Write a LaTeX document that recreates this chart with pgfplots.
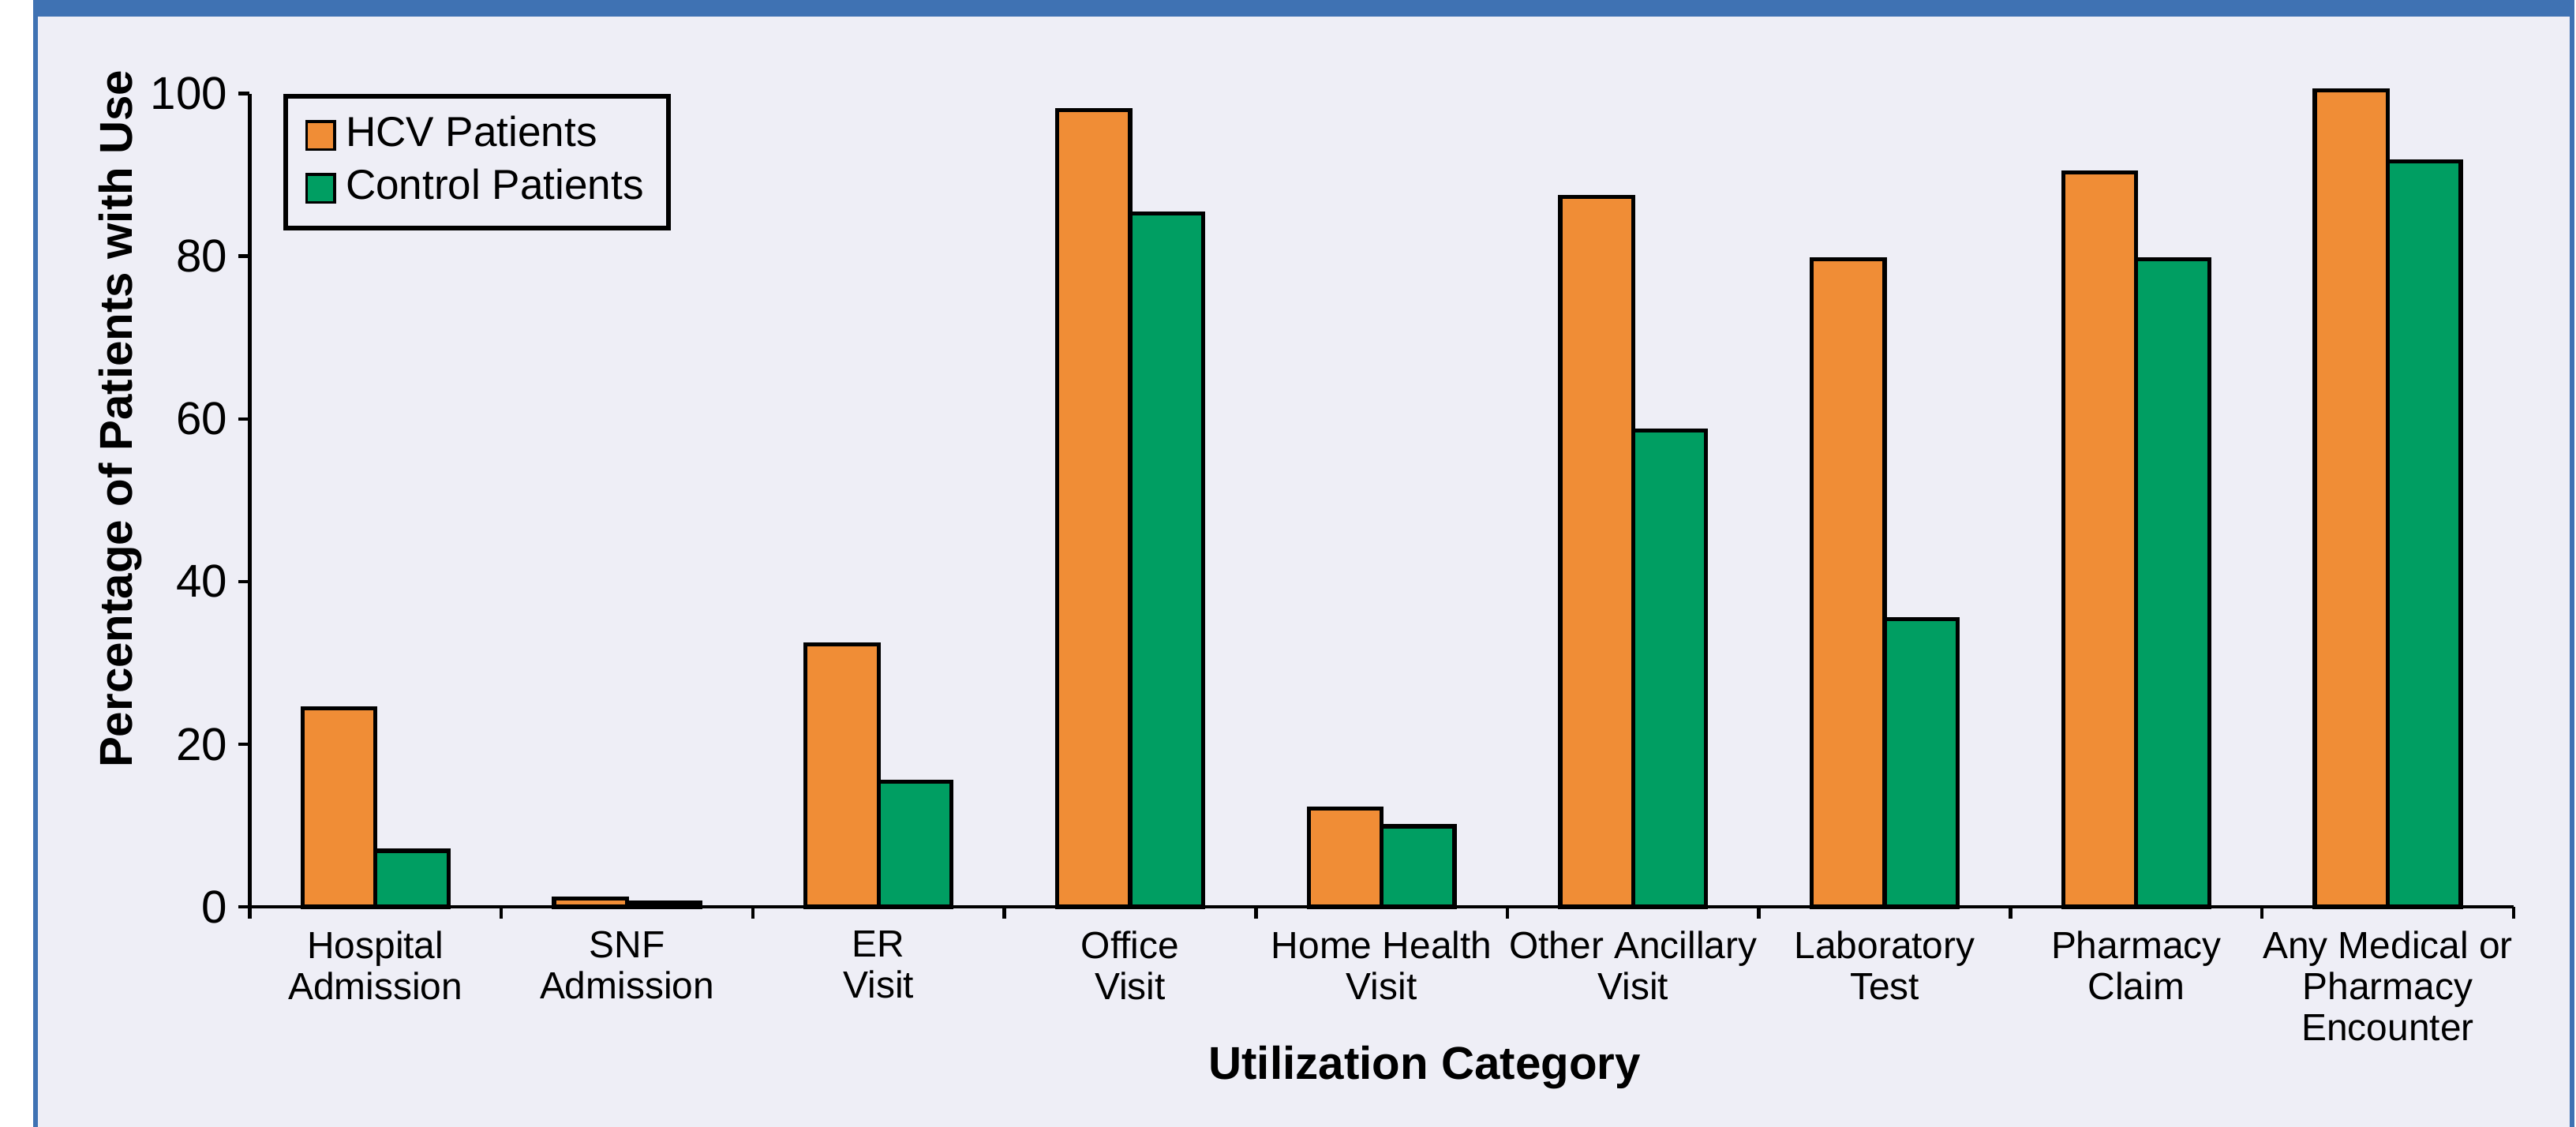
\documentclass[border=0pt]{standalone}
\usepackage{pgfplots}
\pgfplotsset{compat=1.18}
\usepackage{fontspec}
\setmainfont{Liberation Sans}
\definecolor{hcv}{RGB}{240,141,54}
\definecolor{ctl}{RGB}{0,158,98}
\definecolor{bg}{RGB}{238,238,246}
\definecolor{framec}{RGB}{63,114,179}
\begin{document}
\begin{tikzpicture}[x=1pt,y=1pt]
\useasboundingbox (-45.6,-40.2) rectangle (424.8,165.6);
\fill[white] (-46,-41) rectangle (425,166);
\fill[framec] (-39.6,-41) rectangle (424.5,166);
\fill[bg] (-38.7,-41) rectangle (423.6,162.6);
\begin{axis}[
  scale only axis, width=413.4pt, height=148.5pt,
  xmin=0, xmax=9, ymin=0, ymax=100,
  clip=false,
  axis lines=left, axis line style={line width=0.65pt,-},
  axis on top,
  tick align=outside,
  major tick length=2.1pt,
  tick style={line width=0.65pt, black},
  xtick={0,1,...,9}, xticklabels={},
  extra x ticks={0.5,1.5,2.5,3.5,4.5,5.5,6.5,7.5,8.5},
  extra x tick labels={Hospital\\Admission, SNF\\Admission, ER\\Visit, Office\\Visit, Home Health\\Visit, Other Ancillary\\Visit, Laboratory\\Test, Pharmacy\\Claim, Any Medical or\\Pharmacy\\Encounter},
  extra x tick style={major tick length=0pt, tick style={draw=none},
     xticklabel style={align=center, font=\fontsize{6.9}{7.5}\selectfont, inner sep=0pt, yshift=-4.2pt}},
  ytick={0,20,...,100},
  yticklabel style={font=\fontsize{8.4}{10}\selectfont, inner sep=1.8pt},
  /pgf/number format/assume math mode=true,
  xlabel={Utilization Category},
  ylabel={Percentage of Patients with Use},
  xlabel style={font=\bfseries\fontsize{8.4}{10}\selectfont, at={(axis description cs:0.519,-0.212)}, anchor=base},
  ylabel style={font=\bfseries\fontsize{8.4}{10}\selectfont, at={(axis description cs:-0.0518,0.6)}, anchor=base},
  legend style={at={(0.015,1)}, anchor=north west, draw=black, line width=0.85pt, fill=none,
     font=\fontsize{7.65}{9}\selectfont, inner xsep=3.5pt, inner ysep=2.7pt, row sep=0.6pt,
     nodes={inner sep=1pt},
     /tikz/every odd column/.append style={column sep=0.8pt}},
  legend cell align=left,
  legend image code/.code={\draw[#1, line width=0.5pt] (0pt,-2.55pt) rectangle (5.1pt,2.55pt);},
]
\addplot[ybar, bar width=0.29, bar shift=-0.145, fill=hcv, draw=black, line width=0.75pt]
  coordinates {(0.5,24.4) (1.5,1.0) (2.5,32.3) (3.5,98.0) (4.5,12.1) (5.5,87.3) (6.5,79.6) (7.5,90.3) (8.5,100.4)};
\addplot[ybar, bar width=0.29, bar shift=0.145, fill=ctl, draw=black, line width=0.75pt]
  coordinates {(0.5,6.9) (1.5,0.5) (2.5,15.4) (3.5,85.3) (4.5,9.9) (5.5,58.6) (6.5,35.4) (7.5,79.6) (8.5,91.7)};
\legend{HCV Patients, Control Patients}
\end{axis}
\end{tikzpicture}
\end{document}
